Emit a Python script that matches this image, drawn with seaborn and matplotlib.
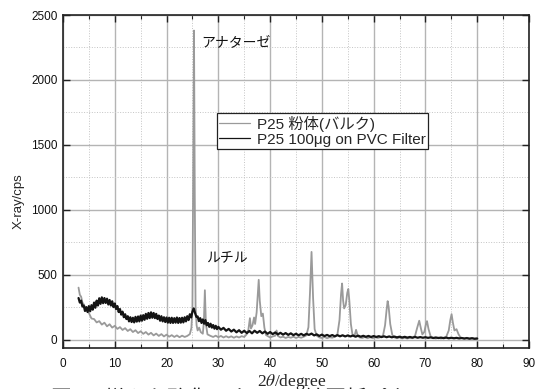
import numpy as np
import matplotlib
matplotlib.use("Agg")
import matplotlib.pyplot as plt
from matplotlib.lines import Line2D
from matplotlib.ticker import MultipleLocator
import seaborn as sns

# --- P25 powder (bulk) pattern: 2theta [deg] and intensity [cps] ---
gray_x = [
    3.0, 3.25, 3.5, 3.75, 4.0, 4.5, 5.0, 5.5, 6.0, 6.5,
    7.0, 7.5, 8.0, 8.5, 9.0, 9.5, 10.0, 10.5, 11.0, 11.5,
    12.0, 12.5, 13.0, 13.5, 14.0, 14.5, 15.0, 15.5, 16.0, 16.5,
    17.0, 17.5, 18.0, 18.5, 19.0, 19.5, 20.0, 20.5, 21.0, 21.5,
    22.0, 22.5, 23.0, 23.5, 24.0, 24.5, 24.8, 25.0, 25.15, 25.3,
    25.45, 25.6, 25.8, 26.0, 26.3, 26.6, 27.0, 27.2, 27.4, 27.6,
    27.9, 28.5, 29.0, 29.5, 30.0, 30.5, 31.0, 31.5, 32.0, 32.5,
    33.0, 33.5, 34.0, 34.5, 35.0, 35.5, 35.8, 36.1, 36.3, 36.6,
    36.9, 37.1, 37.4, 37.6, 37.8, 38.0, 38.3, 38.6, 38.9, 39.2,
    39.6, 40.0, 40.5, 41.0, 41.25, 41.5, 42.0, 42.5, 43.0, 43.5,
    44.0, 44.5, 45.0, 45.5, 46.0, 46.5, 47.0, 47.4, 47.7, 48.0,
    48.3, 48.6, 49.0, 49.5, 50.0, 50.5, 51.0, 51.5, 52.0, 52.5,
    53.0, 53.4, 53.7, 53.9, 54.1, 54.3, 54.6, 54.9, 55.1, 55.3,
    55.6, 55.9, 56.3, 56.6, 56.9, 57.3, 57.8, 58.3, 58.8, 59.3,
    59.8, 60.3, 60.8, 61.3, 61.8, 62.2, 62.5, 62.7, 62.9, 63.2,
    63.6, 64.0, 64.5, 65.0, 65.5, 66.0, 66.5, 67.0, 67.5, 68.0,
    68.4, 68.8, 69.1, 69.4, 69.8, 70.1, 70.3, 70.6, 71.0, 71.5,
    72.0, 72.5, 73.0, 73.5, 74.0, 74.5, 74.8, 75.05, 75.3, 75.6,
    76.0, 76.4, 76.8, 77.5, 78.0, 78.5, 79.0, 79.5, 80.0,
]
gray_y = [
    400, 345, 330, 285, 272, 228, 205, 162, 158, 132,
    142, 115, 130, 102, 118, 92, 106, 82, 96, 74,
    88, 66, 80, 58, 72, 50, 64, 44, 58, 38,
    52, 32, 46, 28, 42, 24, 38, 22, 34, 20,
    32, 18, 30, 20, 28, 42, 90, 260, 1250, 2380,
    1100, 260, 110, 70, 92, 58, 45, 130, 380, 120,
    40, 28, 20, 30, 18, 28, 16, 26, 16, 25,
    14, 24, 16, 26, 20, 42, 75, 165, 85, 110,
    170, 120, 210, 340, 460, 300, 180, 200, 90, 35,
    25, 16, 24, 30, 70, 28, 16, 22, 12, 20,
    14, 22, 12, 20, 14, 22, 32, 95, 360, 675,
    320, 80, 30, 16, 12, 20, 10, 18, 14, 22,
    40, 150, 350, 432, 300, 240, 265, 360, 390, 300,
    120, 40, 28, 75, 30, 16, 12, 20, 10, 18,
    10, 18, 12, 18, 30, 110, 230, 296, 250, 120,
    35, 16, 10, 16, 8, 14, 8, 14, 10, 30,
    90, 145, 90, 40, 60, 120, 142, 80, 25, 12,
    8, 14, 8, 14, 20, 70, 150, 196, 130, 70,
    80, 40, 15, 8, 14, 6, 12, 6, 10,
]

# --- P25 100 ug on PVC filter: 0.25 deg steps up to 30, 0.5 deg beyond ---
black_x = np.r_[np.arange(3.0, 30.0, 0.25), np.arange(30.0, 80.01, 0.5)]
black_y = [
    320, 285, 300, 255,   262, 220, 250, 212,   258, 218, 265, 230,
    285, 245, 300, 262,   318, 275, 325, 280,   320, 282, 315, 270,
    305, 262, 295, 250,   278, 235, 258, 212,   235, 192, 215, 172,
    195, 158, 180, 140,   172, 135, 168, 132,   175, 138, 178, 140,
    185, 145, 188, 152,   198, 160, 205, 165,   210, 168, 205, 165,
    198, 158, 185, 145,   180, 140, 172, 135,   170, 130, 168, 128,
    168, 128, 165, 130,   170, 128, 166, 130,   168, 132, 172, 140,
    180, 150, 195, 170,   215, 240, 205, 175,   178, 142, 165, 128,
    155, 122, 150, 110,   128, 98, 122, 92,     112, 84, 106, 80,
    98, 76, 90, 68, 82, 62, 76, 56, 72, 52,
    68, 50, 66, 48, 68, 52, 66, 48, 62, 44,
    58, 42, 55, 40, 52, 38, 50, 36, 48, 34,
    45, 33, 44, 32, 44, 36, 46, 32, 40, 28,
    38, 27, 36, 26, 35, 25, 34, 25, 33, 24,
    32, 24, 31, 22, 30, 22, 29, 21, 28, 20,
    27, 20, 26, 19, 25, 18, 24, 17, 23, 17,
    22, 16, 21, 15, 20, 15, 20, 14, 19, 14,
    18, 13, 17, 12, 16, 12, 15, 11, 15, 10,
    14, 10, 13, 9, 12, 8, 11, 7, 10, 6,
    8,
]

series_labels = ["P25 粉体(バルク)", "P25 100μg on PVC Filter"]
series_colors = ["#9a9a9a", "#141414"]
x_ticks = [0, 10, 20, 30, 40, 50, 60, 70, 80, 90]
y_ticks = [0, 500, 1000, 1500, 2000, 2500]

sns.set_style("ticks")
plt.rcParams["font.family"] = ["Liberation Sans", "Noto Sans CJK JP", "DejaVu Sans"]
plt.rcParams["mathtext.fontset"] = "stix"

W, H = 535, 389
fig = plt.figure(figsize=(W / 100, H / 100), dpi=100)
L, R, T, B = 63, 529, 15, 348
ax = fig.add_axes([L / W, 1 - B / H, (R - L) / W, (B - T) / H])

sns.lineplot(x=gray_x, y=gray_y, ax=ax, color=series_colors[0], lw=1.3,
             estimator=None, sort=False, legend=False)
sns.lineplot(x=black_x, y=black_y, ax=ax, color=series_colors[1], lw=1.6,
             estimator=None, sort=False, legend=False)

ax.set_xlim(0, 90)
ax.set_ylim(-65, 2500)
ax.set_xticks(x_ticks)
ax.set_yticks(y_ticks)
ax.xaxis.set_minor_locator(MultipleLocator(5))
ax.yaxis.set_minor_locator(MultipleLocator(250))

ax.grid(which="major", color="#b4b4b4", lw=1.0, ls="-")
ax.grid(which="minor", color="#c4c4c4", lw=0.7, ls=":")
ax.set_axisbelow(True)

ax.tick_params(which="both", direction="in", top=True, right=True,
               colors="#222222", labelcolor="#111111")
ax.tick_params(axis="x", which="major", length=5, width=1.0, pad=7, labelsize=8.5)
ax.tick_params(axis="x", which="minor", length=3, width=0.8)
ax.tick_params(axis="y", which="major", length=5, width=1.0, pad=4, labelsize=8.5)
ax.tick_params(axis="y", which="minor", length=0)
for sp in ax.spines.values():
    sp.set_color("#222222")
    sp.set_linewidth(1.2)

ax.set_ylabel("X-ray/cps", fontsize=9.5)
ax.yaxis.set_label_coords(-0.082, 0.44)
ax.set_xlabel("2$\\theta$/degree", fontsize=12.5, family=["Liberation Serif"])
ax.xaxis.set_label_coords(0.49, -0.072)

ax.text(26.8, 2288, "アナターゼ", fontsize=10, va="center", ha="left",
        family=["Noto Sans CJK JP"], color="#111111")
ax.text(27.7, 631, "ルチル", fontsize=10, va="center", ha="left",
        family=["Noto Sans CJK JP"], color="#111111")

handles = [Line2D([], [], color=c, lw=0.9, label=s)
           for c, s in zip(series_colors, series_labels)]
leg = ax.legend(handles=handles, loc="upper left", bbox_to_anchor=(0.33, 0.705),
                borderaxespad=0, frameon=True, fancybox=False, framealpha=1,
                edgecolor="#222222", fontsize=11, handlelength=2.0,
                handletextpad=0.45, borderpad=0.15, labelspacing=0.08)
leg.get_frame().set_linewidth(0.9)

fig.text(51 / W, 1 - 387.5 / H, "図1　様々な酸化チタンのX線回折パターン", fontsize=15,
         va="top", ha="left", family=["Noto Sans CJK JP"], color="#222222")

fig.savefig("out.png", dpi=100)
